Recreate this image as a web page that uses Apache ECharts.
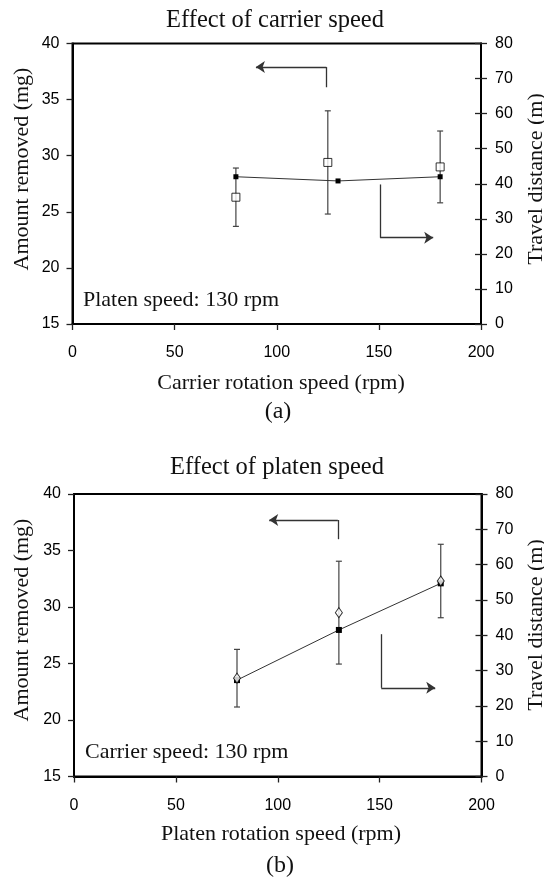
<!DOCTYPE html>
<html>
<head>
<meta charset="utf-8">
<title>Effect of carrier and platen speed</title>
<script src="https://cdn.jsdelivr.net/npm/echarts@6.0.0/dist/echarts.min.js"></script>
<style>
  html, body { margin: 0; padding: 0; background: #fff; }
  #main { width: 544px; height: 883px; }
</style>
</head>
<body>
<div id="main"></div>
<script>
// (a) carrier speed varied, platen at 130 rpm
const carrierAmountSpeed = [80, 125, 180];
const carrierAmount = [26.3, 29.4, 29.0];
const carrierAmountErr = [2.6, 4.6, 3.2];
const carrierTravelSpeed = [80, 130, 180];
const carrierTravel = [42.0, 40.8, 42.0];

// (b) platen speed varied, carrier at 130 rpm
const platenSpeed = [80, 130, 180];
const platenAmount = [23.7, 29.5, 32.3];
const platenAmountErr = [2.55, 4.55, 3.25];
const platenTravel = [27.3, 41.5, 54.7];

// axis ticks
const xTicks = [0, 50, 100, 150, 200];
const amountTicks = [15, 20, 25, 30, 35, 40];
const travelTicks = [0, 10, 20, 30, 40, 50, 60, 70, 80];

// arrow callouts (data units): start, corner, tip
const arrowLeftA = [[124.3, 36.1], [124.3, 37.9], [89.8, 37.9]];
const arrowRightA = [[150.6, 39.8], [150.6, 24.6], [176.6, 24.6]];
const arrowLeftB = [[129.5, 36.0], [129.5, 37.7], [95.8, 37.7]];
const arrowRightB = [[150.8, 40.3], [150.8, 25.1], [177.3, 25.1]];

const serif = 'Liberation Serif, Times New Roman, serif';
const sans = 'Liberation Sans, Arial, sans-serif';

function range(ticks) {
  return { min: ticks[0], max: ticks[ticks.length - 1], interval: ticks[1] - ticks[0] };
}

function makeX(gridIndex) {
  return Object.assign({
    type: 'value',
    gridIndex: gridIndex,
    axisLine: { onZero: false, lineStyle: { color: '#000', width: 2 } },
    axisTick: { length: 6, lineStyle: { color: '#222', width: 1.3 } },
    axisLabel: { margin: 21, fontFamily: sans, fontSize: 16, color: '#000' },
    splitLine: { show: false }
  }, range(xTicks));
}

function makeY(gridIndex) {
  return [
    Object.assign({
      type: 'value', gridIndex: gridIndex, position: 'left',
      axisLine: { show: true, onZero: false, lineStyle: { color: '#000', width: 2 } },
      axisTick: { show: true, length: 6, lineStyle: { color: '#222', width: 1.3 } },
      axisLabel: { margin: 13, fontFamily: sans, fontSize: 16, color: '#000' },
      splitLine: { show: false }
    }, range(amountTicks)),
    Object.assign({
      type: 'value', gridIndex: gridIndex, position: 'right',
      axisLine: { show: true, onZero: false, lineStyle: { color: '#000', width: 2 } },
      axisTick: { show: true, length: 6, lineStyle: { color: '#222', width: 1.3 } },
      axisLabel: { margin: 14, fontFamily: sans, fontSize: 16, color: '#000' },
      splitLine: { show: false }
    }, range(travelTicks)),
    // same axis again, ticks pointing inwards so they cross the line
    Object.assign({
      type: 'value', gridIndex: gridIndex, position: 'right',
      axisLine: { show: false, onZero: false },
      axisTick: { show: true, inside: true, length: 6, lineStyle: { color: '#222', width: 1.3 } },
      axisLabel: { show: false },
      splitLine: { show: false }
    }, range(travelTicks))
  ];
}

function errorBars(xs, ys, errs, xi, yi) {
  return {
    type: 'custom',
    xAxisIndex: xi,
    yAxisIndex: yi,
    z: 2,
    silent: true,
    encode: { x: 0, y: [1, 2] },
    data: xs.map(function (x, i) { return [x, ys[i] - errs[i], ys[i] + errs[i]]; }),
    renderItem: function (params, api) {
      const x = api.value(0);
      const lo = api.coord([x, api.value(1)]);
      const hi = api.coord([x, api.value(2)]);
      const w = 3;
      const style = { stroke: '#444', lineWidth: 1.2 };
      return {
        type: 'group',
        children: [
          { type: 'line', shape: { x1: lo[0], y1: lo[1], x2: hi[0], y2: hi[1] }, style: style },
          { type: 'line', shape: { x1: lo[0] - w, y1: lo[1], x2: lo[0] + w, y2: lo[1] }, style: style },
          { type: 'line', shape: { x1: hi[0] - w, y1: hi[1], x2: hi[0] + w, y2: hi[1] }, style: style }
        ]
      };
    }
  };
}

function arrow(pts) {
  return {
    silent: true,
    symbolSize: 9,
    label: { show: false },
    lineStyle: { color: '#333', width: 1.3, type: 'solid' },
    emphasis: { disabled: true },
    data: [
      [{ coord: pts[0], symbol: 'none' }, { coord: pts[1], symbol: 'none' }],
      [{ coord: pts[1], symbol: 'none' }, { coord: pts[2], symbol: 'arrow' }]
    ]
  };
}

function pairs(xs, ys) {
  return xs.map(function (x, i) { return [x, ys[i]]; });
}

function text(str, x, y, size, rotation) {
  return {
    type: 'text', x: x, y: y, rotation: rotation || 0,
    style: {
      text: str, fontFamily: serif, fontSize: size, fill: '#111',
      textAlign: 'center', textVerticalAlign: 'middle'
    }
  };
}

const myChart = echarts.init(document.getElementById('main'), null, { renderer: 'canvas' });
myChart.setOption({
  animation: false,
  backgroundColor: '#fff',
  grid: [
    { left: 72.5, right: 63, top: 43.5, height: 280.5, show: true, borderColor: '#000', borderWidth: 2 },
    { left: 74, right: 62.5, top: 494, height: 282.5, show: true, borderColor: '#000', borderWidth: 2 }
  ],
  xAxis: [makeX(0), makeX(1)],
  yAxis: makeY(0).concat(makeY(1)),
  series: [
    errorBars(carrierAmountSpeed, carrierAmount, carrierAmountErr, 0, 0),
    {
      type: 'scatter', xAxisIndex: 0, yAxisIndex: 0, z: 4,
      symbol: 'rect', symbolSize: 8,
      itemStyle: { color: '#fff', borderColor: '#000', borderWidth: 1 },
      data: pairs(carrierAmountSpeed, carrierAmount),
      markLine: arrow(arrowLeftA)
    },
    {
      type: 'line', xAxisIndex: 0, yAxisIndex: 1, z: 3,
      symbol: 'rect', symbolSize: 5,
      itemStyle: { color: '#000' },
      lineStyle: { color: '#333', width: 1 },
      data: pairs(carrierTravelSpeed, carrierTravel),
      markLine: arrow(arrowRightA)
    },
    errorBars(platenSpeed, platenAmount, platenAmountErr, 1, 3),
    {
      type: 'line', xAxisIndex: 1, yAxisIndex: 4, z: 3,
      symbol: 'rect', symbolSize: 6,
      itemStyle: { color: '#000' },
      lineStyle: { color: '#333', width: 1 },
      data: pairs(platenSpeed, platenTravel),
      markLine: arrow(arrowRightB)
    },
    {
      type: 'scatter', xAxisIndex: 1, yAxisIndex: 3, z: 4,
      symbol: 'diamond', symbolSize: [7, 10],
      itemStyle: { color: '#fff', borderColor: '#000', borderWidth: 1 },
      data: pairs(platenSpeed, platenAmount),
      markLine: arrow(arrowLeftB)
    }
  ],
  graphic: [
    text('Effect of carrier speed', 275, 21, 24.5),
    text('Carrier rotation speed (rpm)', 281, 383, 22),
    text('(a)', 278, 412, 24),
    text('Amount removed (mg)', 22, 169, 22, Math.PI / 2),
    text('Travel distance (m)', 536, 179, 22, Math.PI / 2),
    { type: 'text', x: 83, y: 300, style: { text: 'Platen speed: 130 rpm', fontFamily: serif, fontSize: 22, fill: '#111', textVerticalAlign: 'middle' } },

    text('Effect of platen speed', 277, 468, 24.5),
    text('Platen rotation speed (rpm)', 281, 834, 22),
    text('(b)', 280, 866, 24),
    text('Amount removed (mg)', 22, 620, 22, Math.PI / 2),
    text('Travel distance (m)', 536, 625, 22, Math.PI / 2),
    { type: 'text', x: 85, y: 752, style: { text: 'Carrier speed: 130 rpm', fontFamily: serif, fontSize: 22, fill: '#111', textVerticalAlign: 'middle' } }
  ]
});
window.onresize = function () {
  myChart.resize();
};
</script>
</body>
</html>
